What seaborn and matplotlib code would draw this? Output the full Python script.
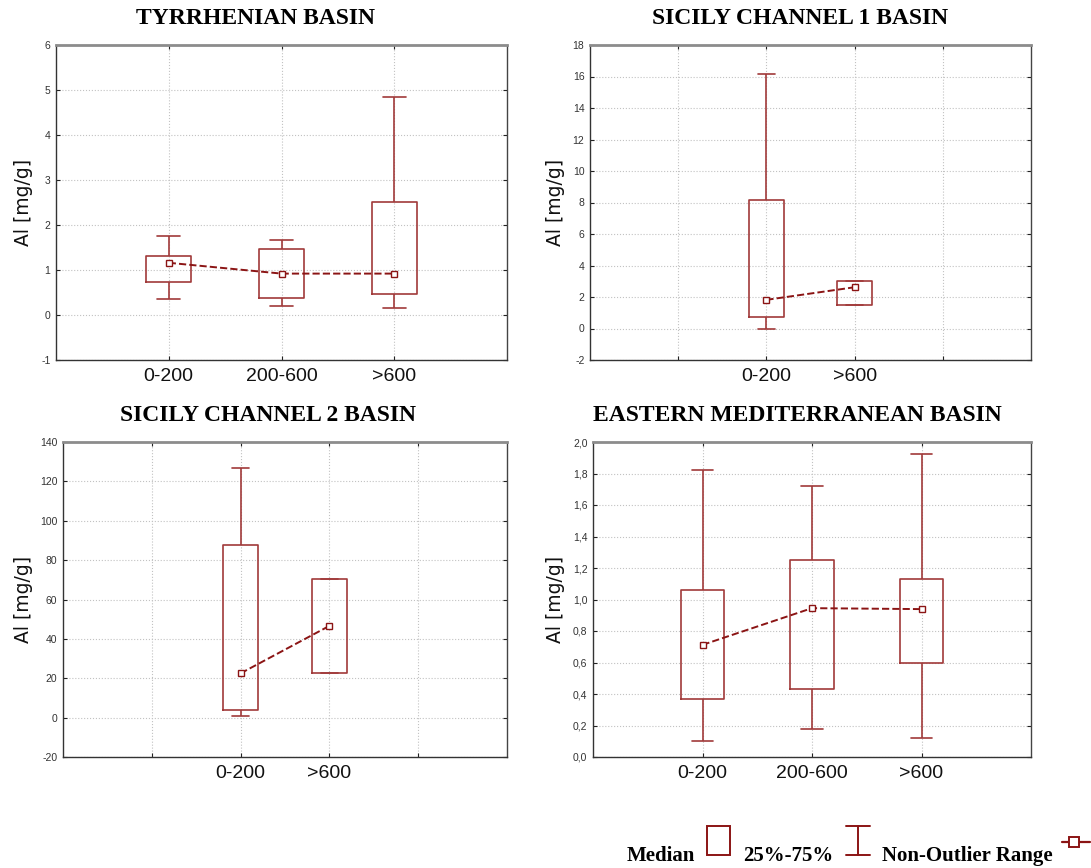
import matplotlib
matplotlib.use("Agg")
import matplotlib.pyplot as plt
from matplotlib.patches import Rectangle
from matplotlib.lines import Line2D
import pandas as pd
import seaborn as sns

# ---- Al concentration [mg/g] by depth class, per basin ----
# five-number summaries: non-outlier min, 25%, median, 75%, non-outlier max
tyr_classes = ["0-200", "200-600", ">600"]
tyr_low = [0.35, 0.19, 0.155]
tyr_q1 = [0.725, 0.37, 0.46]
tyr_med = [1.16, 0.92, 0.92]
tyr_q3 = [1.31, 1.46, 2.52]
tyr_high = [1.75, 1.66, 4.84]

sc1_classes = ["0-200", ">600"]
sc1_low = [0.0, 1.48]
sc1_q1 = [0.74, 1.48]
sc1_med = [1.82, 2.62]
sc1_q3 = [8.18, 3.02]
sc1_high = [16.17, 3.02]

sc2_classes = ["0-200", ">600"]
sc2_low = [0.7, 22.7]
sc2_q1 = [3.7, 22.7]
sc2_med = [22.5, 46.6]
sc2_q3 = [87.5, 70.3]
sc2_high = [126.9, 70.3]

em_classes = ["0-200", "200-600", ">600"]
em_low = [0.102, 0.18, 0.119]
em_q1 = [0.367, 0.432, 0.60]
em_med = [0.712, 0.945, 0.939]
em_q3 = [1.061, 1.25, 1.129]
em_high = [1.82, 1.718, 1.922]

# y-axis ticks per panel
tyr_yticks = [-1, 0, 1, 2, 3, 4, 5, 6]
sc1_yticks = [-2, 0, 2, 4, 6, 8, 10, 12, 14, 16, 18]
sc2_yticks = [-20, 0, 20, 40, 60, 80, 100, 120, 140]
em_yticks = [0.0, 0.2, 0.4, 0.6, 0.8, 1.0, 1.2, 1.4, 1.6, 1.8, 2.0]

BOX = "#a13a3a"
MED = "#8b1414"
W, H = 1091, 868

sns.set_theme(style="white")
plt.rcParams["font.family"] = ["Liberation Sans", "DejaVu Sans"]

fig = plt.figure(figsize=(W / 100, H / 100), dpi=100)


def px_axes(left, top, right, bottom):
    return fig.add_axes([left / W, 1 - bottom / H, (right - left) / W, (bottom - top) / H])


def draw_panel(ax, classes, low, q1, med, q3, high, order, yticks, decimals,
               title, title_xy, ylab_px):
    rows = []
    for i, c in enumerate(classes):
        for v in (low[i], q1[i], med[i], q3[i], high[i]):
            rows.append({"depth": c, "al": v})
    df = pd.DataFrame(rows)
    mdf = pd.DataFrame({"depth": classes, "al": med})

    sns.boxplot(data=df, x="depth", y="al", order=order, whis=(0, 100),
                width=0.4, fill=False, color=BOX, linecolor=BOX, saturation=1,
                linewidth=1.2, showfliers=False,
                medianprops={"visible": False}, ax=ax)
    sns.pointplot(data=mdf, x="depth", y="al", order=order, color=MED,
                  markers="s", linestyles="--", errorbar=None,
                  markersize=4.5, markerfacecolor="white", markeredgecolor=MED,
                  markeredgewidth=1.0, linewidth=1.4, ax=ax)

    n = len(order)
    ax.set_xlim(-1, n)
    ax.set_ylim(yticks[0], yticks[-1])
    ax.set_xticks(range(n))
    ax.set_xticklabels([o.strip() for o in order], fontsize=14, color="#111111")
    ax.set_yticks(yticks)
    if decimals:
        ax.set_yticklabels([f"{t:.1f}".replace(".", ",") for t in yticks])
    else:
        ax.set_yticklabels([f"{t:d}" for t in yticks])
    ax.tick_params(axis="y", labelsize=7.5, labelcolor="#333333", direction="in",
                   length=3, width=0.8, color="#222222", left=True, right=True, pad=4)
    ax.tick_params(axis="x", direction="in", length=3, width=0.8,
                   color="#222222", top=True, bottom=True, pad=6)
    ax.grid(True, axis="both", linestyle=":", linewidth=0.8, color="#c2c2c2")
    ax.set_axisbelow(True)
    ax.set_xlabel("")
    ax.set_ylabel("Al [mg/g]", fontsize=13.5, family=["DejaVu Sans"], color="#111111")
    bbox = ax.get_position()
    ax.yaxis.set_label_coords(-ylab_px / (bbox.width * W), 0.5)
    for side in ("left", "bottom"):
        ax.spines[side].set_color("#333333")
        ax.spines[side].set_linewidth(1.0)
    ax.spines["top"].set_color("#8c8c8c")
    ax.spines["top"].set_linewidth(2.0)
    ax.spines["right"].set_color("#444444")
    ax.spines["right"].set_linewidth(1.0)
    fig.text(title_xy[0] / W, 1 - title_xy[1] / H, title, ha="center", va="center",
             fontsize=17, fontweight="bold", family=["Liberation Serif"], color="#000000")


ax1 = px_axes(56, 45, 507, 360)
draw_panel(ax1, tyr_classes, tyr_low, tyr_q1, tyr_med, tyr_q3, tyr_high,
           ["0-200", "200-600", ">600"], tyr_yticks, False,
           "TYRRHENIAN BASIN", (256, 19), 23)

ax2 = px_axes(590, 45, 1031, 360)
draw_panel(ax2, sc1_classes, sc1_low, sc1_q1, sc1_med, sc1_q3, sc1_high,
           [" ", "0-200", ">600", "  "], sc1_yticks, False,
           "SICILY CHANNEL 1 BASIN", (800, 19), 25)

ax3 = px_axes(63, 442, 507, 757)
draw_panel(ax3, sc2_classes, sc2_low, sc2_q1, sc2_med, sc2_q3, sc2_high,
           [" ", "0-200", ">600", "  "], sc2_yticks, False,
           "SICILY CHANNEL 2 BASIN", (268, 416), 30)

ax4 = px_axes(593, 442, 1031, 757)
draw_panel(ax4, em_classes, em_low, em_q1, em_med, em_q3, em_high,
           ["0-200", "200-600", ">600"], em_yticks, True,
           "EASTERN MEDITERRANEAN BASIN", (797, 416), 28)

# ---- legend strip along the bottom ----
leg = fig.add_axes([0, 0, 1, 1], zorder=-1)
leg.set_xlim(0, W)
leg.set_ylim(H, 0)
leg.axis("off")
leg.patch.set_alpha(0)

txt = dict(fontsize=15, fontweight="bold", family=["Liberation Serif"],
           color="#000000", va="baseline", ha="left")
leg.text(627, 861, "Median", **txt)
leg.add_patch(Rectangle((707, 826), 23, 29, fill=False, edgecolor=MED, linewidth=1.4))
leg.text(743, 861, "25%-75%", **txt)
leg.add_line(Line2D([858, 858], [826, 855], color=MED, linewidth=1.4))
leg.add_line(Line2D([846, 870], [826, 826], color=MED, linewidth=1.4))
leg.add_line(Line2D([846, 870], [855, 855], color=MED, linewidth=1.4))
leg.text(882, 861, "Non-Outlier Range", **txt)
leg.add_line(Line2D([1062, 1090], [842, 842], color=MED, linewidth=1.6, clip_on=False))
leg.plot([1074], [842], marker="s", markersize=7, markerfacecolor="white",
         markeredgecolor=MED, markeredgewidth=1.4, linestyle="none", clip_on=False)

fig.savefig("out.png", dpi=100)
